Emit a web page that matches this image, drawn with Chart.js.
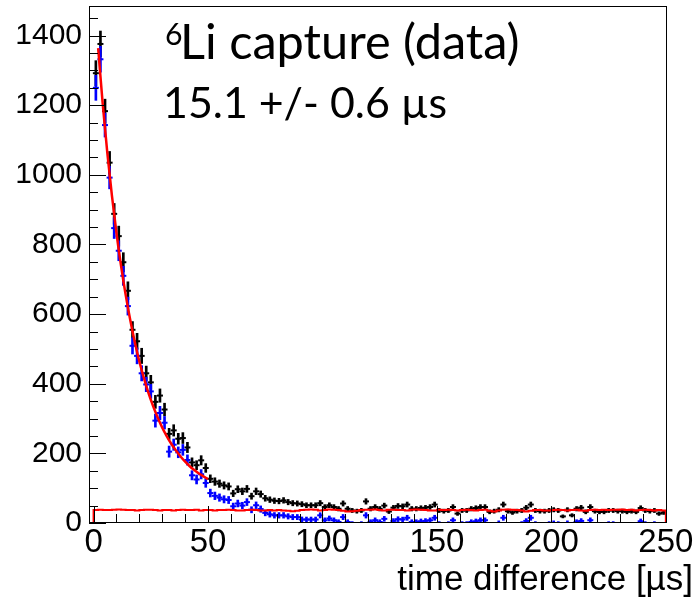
<!DOCTYPE html>
<html><head><meta charset="utf-8">
<script src="https://cdn.jsdelivr.net/npm/chart.js@4/dist/chart.umd.min.js"></script>
<style>html,body{margin:0;padding:0;background:#fff;}canvas{display:block;}</style>
</head><body>
<canvas id="c" width="698" height="602"></canvas>
<script>
// ---- data (bin width 2 us, bin centres) ----
const binCenters = [1,3,5,7,9,11,13,15,17,19,21,23,25,27,29,31,33,35,37,39,41,43,45,47,49,51,53,55,57,59,61,63,65,67,69,71,73,75,77,79,81,83,85,87,89,91,93,95,97,99,101,103,105,107,109,111,113,115,117,119,121,123,125,127,129,131,133,135,137,139,141,143,145,147,149,151,153,155,157,159,161,163,165,167,169,171,173,175,177,179,181,183,185,187,189,191,193,195,197,199,201,203,205,207,209,211,213,215,217,219,221,223,225,227,229,231,233,235,237,239,241,243,245,247,249];
// black points: raw coincidences
const dataCounts = [1292,1376,1183,1035,888,824,749,667,555,522,
  480,430,404,348,366,326,256,266,242,244,
  217,174,166,180,158,127,119,113,108,105,
  85,97,91,98,77,91,83,71,67,64,
  63,65,60,57,56,54,51,51,51,57,
  46,51,46,41,56,41,36,34,36,62,
  41,46,41,50,33,44,49,48,53,41,
  41,43,44,46,53,36,34,36,46,27,
  36,36,41,43,46,46,32,34,38,53,
  34,30,34,36,44,53,36,34,34,36,
  38,36,19,38,22,41,44,32,46,34,
  32,32,36,36,34,34,32,34,32,43,
  36,34,36,27,30];
// blue points: background-subtracted
const subtractedCounts = [1250,1332,1143,992,847,782,710,623,509,480,
  430,398,378,294,316,288,205,225,203,210,
  181,137,125,140,115,86,78,73,68,66,
  48,56,50,60,38,51,40,29,25,22,
  22,22,19,17,17,10,10,10,10,22,
  8,13,8,3,17,3,-2,-4,-2,22,
  3,8,3,12,-5,6,11,10,15,3,
  3,5,6,8,15,-2,-4,-2,8,-11,
  -2,-2,3,5,8,8,-6,-4,0,15,
  -4,-8,-4,-2,6,15,-2,-4,-4,-2,
  0,-2,-19,0,-16,3,6,-6,8,-4,
  -6,-6,-2,-2,-4,-4,-6,-4,-6,5,
  -2,-4,-2,-11,-8];
// red step histogram: background estimate
const backgroundLevel = [37,38,37,37,38,39,38,37,37,36,
  37,38,38,37,36,37,37,36,37,38,
  37,37,38,36,37,37,36,37,37,38,
  37,36,36,37,38,37,36,36,37,36,
  37,36,35,34,35,37,38,39,38,36,
  37,39,38,37,35,33,34,35,37,38,
  38,39,37,36,38,38,37,37,36,38,
  39,38,37,36,36,38,37,38,37,36,
  37,38,37,36,37,38,35,33,36,38,
  39,38,37,36,33,35,37,37,36,36,
  37,38,37,36,37,38,36,35,37,38,
  37,38,37,38,38,39,37,38,36,37,
  38,37,36,37,36];
// red fit curve
const fitTimes  = [2,4,6,8,10,12,14,16,18,20,22,24,26,28,30,32,34,36,38,40,42,44,46,48,50];
const fitValues = [1364,1203,1063,941,833,739,656,584,520,464,416,373,336,303,274,249,227,208,191,176,163,152,142,134,126];
const xTickLabels = [0,50,100,150,200,250];
const yTickLabels = [0,200,400,600,800,1000,1200,1400];
const xTitle = 'time difference [\u00b5s]';
const noteIsotope = '6';
const noteLine1 = 'Li capture (data)';
const noteLine2 = '15.1 +/- 0.6 \u00b5s';

// ---- build datasets ----
const markPoints = vals => binCenters.map((x, i) => ({x, y: vals[i]}));
const errorBars = vals => binCenters.map((x, i) => {
  const e = Math.sqrt(Math.max(dataCounts[i], 0));
  return {x, y: [vals[i] - e, vals[i] + e]};
});
const stepPoints = [{x: -2, y: 0}]
  .concat(binCenters.map((x, i) => ({x: x - 1, y: backgroundLevel[i]})))
  .concat([{x: 250, y: 0}]);

const FONT = "'Liberation Sans', Arial, Helvetica, sans-serif";

const rootFrame = {
  id: 'rootFrame',
  afterDatasetsDraw(chart) {
    const {ctx, chartArea: a, scales: {x, y}} = chart;
    ctx.save();
    ctx.strokeStyle = '#000';
    ctx.lineWidth = 1;
    ctx.beginPath();
    for (let v = 0; v <= 250; v += 10) {
      const px = Math.round(x.getPixelForValue(v)) + 0.5;
      const len = v % 50 === 0 ? 17 : 9;
      ctx.moveTo(px, a.bottom); ctx.lineTo(px, a.bottom - len);
    }
    for (let v = 0; v <= 1450; v += 50) {
      const py = Math.round(y.getPixelForValue(v)) + 0.5;
      const len = v % 200 === 0 ? 17 : 9;
      ctx.moveTo(a.left, py); ctx.lineTo(a.left + len, py);
    }
    ctx.stroke();
    ctx.strokeRect(Math.round(a.left) + 0.5, Math.round(a.top) + 0.5,
                   Math.round(a.right - a.left) - 1, Math.round(a.bottom - a.top) - 1);
    ctx.restore();
  },
  afterDraw(chart) {
    const ctx = chart.ctx;
    ctx.save();
    ctx.fillStyle = '#000';
    ctx.textBaseline = 'alphabetic';
    // axis title, right aligned
    ctx.font = '35px ' + FONT;
    ctx.textAlign = 'right';
    ctx.fillText(xTitle, 693, 590);
    // annotation
    ctx.textAlign = 'left';
    const fam = "Lato, 'Open Sans', sans-serif";
    ctx.font = '100px ' + fam;
    const s1 = 100 * 340 / ctx.measureText(noteLine1).width;
    const s2 = 100 * 284 / ctx.measureText(noteLine2).width;
    ctx.font = (s1 * 0.62).toFixed(1) + 'px ' + fam;
    ctx.fillText(noteIsotope, 165, 45);
    ctx.font = s1.toFixed(1) + 'px ' + fam;
    ctx.fillText(noteLine1, 180, 59);
    ctx.font = s2.toFixed(1) + 'px ' + fam;
    ctx.fillText(noteLine2, 163, 118);
    ctx.restore();
  }
};

const noEdgePadding = s => { s.paddingTop = 0; s.paddingBottom = 0; s.paddingLeft = 0; s.paddingRight = 0; };

new Chart(document.getElementById('c'), {
  type: 'scatter',
  data: {
    datasets: [
      {type: 'line', label: 'fit', data: fitTimes.map((x, i) => ({x, y: fitValues[i]})),
       borderColor: '#ff0000', borderWidth: 2.5, pointRadius: 0, tension: 0.4,
       cubicInterpolationMode: 'monotone', fill: false, order: 1},
      {type: 'line', label: 'background', data: stepPoints, stepped: true,
       borderColor: '#ff0000', borderWidth: 2, pointRadius: 0, fill: false, order: 2},
      {type: 'scatter', label: 'subtracted', data: markPoints(subtractedCounts),
       pointStyle: 'line', pointRadius: 3, pointBorderWidth: 2,
       borderColor: '#0000ff', backgroundColor: '#0000ff', order: 3},
      {type: 'bar', label: 'subtracted err', data: errorBars(subtractedCounts),
       backgroundColor: '#0000ff', borderWidth: 0, barThickness: 2, grouped: false, order: 4},
      {type: 'scatter', label: 'data', data: markPoints(dataCounts),
       pointStyle: 'line', pointRadius: 3, pointBorderWidth: 2,
       borderColor: '#000000', backgroundColor: '#000000', order: 5},
      {type: 'bar', label: 'data err', data: errorBars(dataCounts),
       backgroundColor: '#000000', borderWidth: 0, barThickness: 2, grouped: false, order: 6}
    ]
  },
  options: {
    responsive: false, animation: false, devicePixelRatio: 1,
    layout: {padding: {top: 5, right: 31, left: 0, bottom: 0}},
    plugins: {legend: {display: false}, tooltip: {enabled: false}},
    events: [],
    scales: {
      x: {
        type: 'linear', min: -2, max: 250.5, offset: false,
        grid: {display: false, drawTicks: false},
        border: {display: false},
        ticks: {color: '#000', font: {family: FONT, size: 33}, padding: 0, maxRotation: 0, autoSkip: false,
                callback: v => String(v)},
        afterBuildTicks: s => { s.ticks = xTickLabels.map(v => ({value: v})); },
        afterFit: s => { s.height = 79; noEdgePadding(s); }
      },
      y: {
        type: 'linear', min: 0, max: 1485,
        grid: {display: false, drawTicks: false},
        border: {display: false},
        ticks: {color: '#000', font: {family: FONT, size: 30}, padding: 7, autoSkip: false,
                callback: v => String(v)},
        afterBuildTicks: s => { s.ticks = yTickLabels.map(v => ({value: v})); },
        afterFit: s => { s.width = 89; noEdgePadding(s); }
      }
    }
  },
  plugins: [rootFrame]
});
</script>
</body></html>
